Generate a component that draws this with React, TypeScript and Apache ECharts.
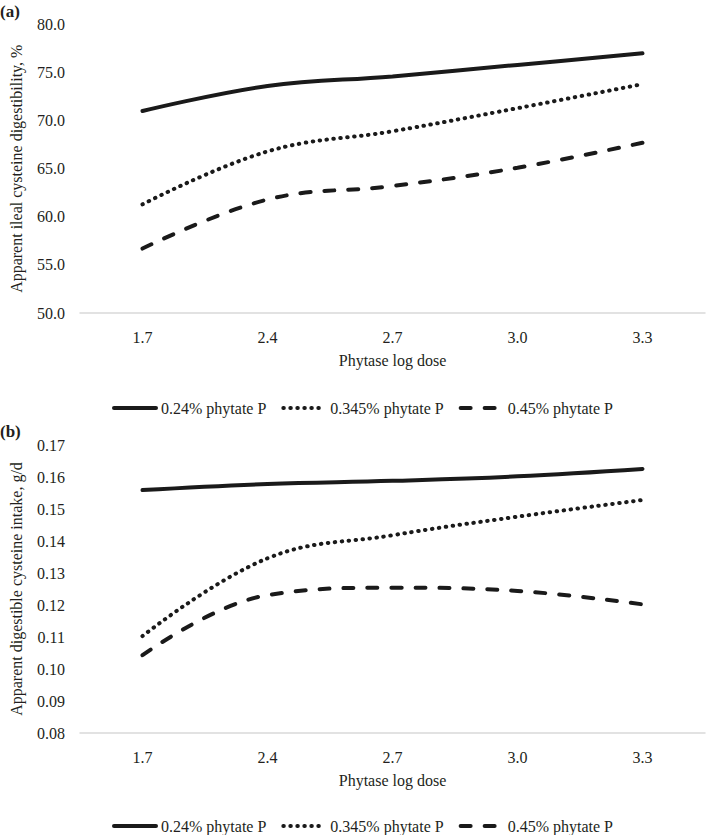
import React, { useEffect, useRef } from "react";
import * as echarts from "echarts";

const categories = ["1.7", "2.4", "2.7", "3.0", "3.3"];
const seriesNames = ["0.24% phytate P", "0.345% phytate P", "0.45% phytate P"];

// (a) Apparent ileal cysteine digestibility, %
const aP024 = [71.0, 73.6, 74.6, 75.8, 77.0];
const aP0345 = [61.3, 66.8, 68.9, 71.3, 73.8];
const aP045 = [56.7, 61.8, 63.2, 65.1, 67.7];

// (b) Apparent digestible cysteine intake, g/d
const bP024 = [0.1559, 0.1578, 0.1588, 0.1602, 0.1625];
const bP0345 = [0.1103, 0.1346, 0.1418, 0.1476, 0.1528];
const bP045 = [0.1043, 0.1231, 0.1254, 0.1244, 0.1202];

const FONT = "'Liberation Serif', 'Times New Roman', serif";
const TXT = "#231f20";
const FS = 16;

const lineStyles = [
  { width: 4, type: "solid" as any, cap: "round" as any },
  { width: 4, type: [0.5, 6.5] as any, cap: "round" as any },
  { width: 4, type: [10, 14] as any, cap: "round" as any },
];

export default function App() {
  const ref = useRef<HTMLDivElement>(null);
  useEffect(() => {
    document.body.style.margin = "0";
    const chart = echarts.init(ref.current!, null, { renderer: "svg" });
    const grids = [
      { left: 79, right: 2, top: 24.5, height: 288.5 },
      { left: 79, right: 2, top: 445, height: 288 },
    ];
    const mkX = (gi: number) => ({
      type: "category",
      gridIndex: gi,
      data: categories,
      boundaryGap: true,
      axisLine: { show: true, lineStyle: { color: "#d9d9d9", width: 1.5 } },
      axisTick: { show: false },
      axisLabel: { color: TXT, fontFamily: FONT, fontSize: FS, margin: 16 },
      name: "Phytase log dose",
      nameLocation: "middle",
      nameGap: 39,
      nameTextStyle: { color: TXT, fontFamily: FONT, fontSize: FS },
    });
    const mkY = (gi: number, min: number, max: number, interval: number, dec: number, name: string) => ({
      type: "value",
      gridIndex: gi,
      min,
      max,
      interval,
      axisLine: { show: false },
      axisTick: { show: false },
      splitLine: { show: false },
      axisLabel: {
        color: TXT,
        fontFamily: FONT,
        fontSize: FS,
        margin: 15,
        formatter: (v: number) => v.toFixed(dec),
      },
      name,
      nameLocation: "middle",
      nameGap: 56,
      nameTextStyle: { color: TXT, fontFamily: FONT, fontSize: FS },
    });
    const aData = [aP024, aP0345, aP045];
    const bData = [bP024, bP0345, bP045];
    const series: any[] = [];
    [aData, bData].forEach((set, gi) => {
      set.forEach((d, i) => {
        series.push({
          type: "line",
          name: seriesNames[i],
          xAxisIndex: gi,
          yAxisIndex: gi,
          data: d,
          smooth: 0.4,
          symbol: "none",
          showSymbol: false,
          color: "#1a1a1a",
          lineStyle: { color: "#1a1a1a", ...lineStyles[i] },
        });
      });
    });
    const mkLegend = (top: number) => ({
      top,
      left: 112,
      padding: 0,
      itemWidth: 42,
      itemHeight: 14,
      itemGap: 15,
      itemStyle: { opacity: 0 },
      lineStyle: { width: 4 },
      data: seriesNames,
      textStyle: { color: TXT, fontFamily: FONT, fontSize: FS },
    });
    chart.setOption({
      animation: false,
      backgroundColor: "#ffffff",
      grid: grids,
      xAxis: [mkX(0), mkX(1)],
      yAxis: [
        mkY(0, 50, 80, 5, 1, "Apparent ileal cysteine digestibility, %"),
        mkY(1, 0.08, 0.17, 0.01, 2, "Apparent digestible cysteine intake, g/d"),
      ],
      legend: [mkLegend(400), mkLegend(818)],
      series,
      graphic: [
        {
          type: "text",
          left: 0,
          top: 3,
          style: { text: "(a)", fontFamily: FONT, fontSize: 17, fontWeight: "bold", fill: TXT },
        },
        {
          type: "text",
          left: 0,
          top: 423,
          style: { text: "(b)", fontFamily: FONT, fontSize: 17, fontWeight: "bold", fill: TXT },
        },
      ],
    });
    return () => chart.dispose();
  }, []);
  return <div ref={ref} style={{ width: 707, height: 835 }} />;
}
